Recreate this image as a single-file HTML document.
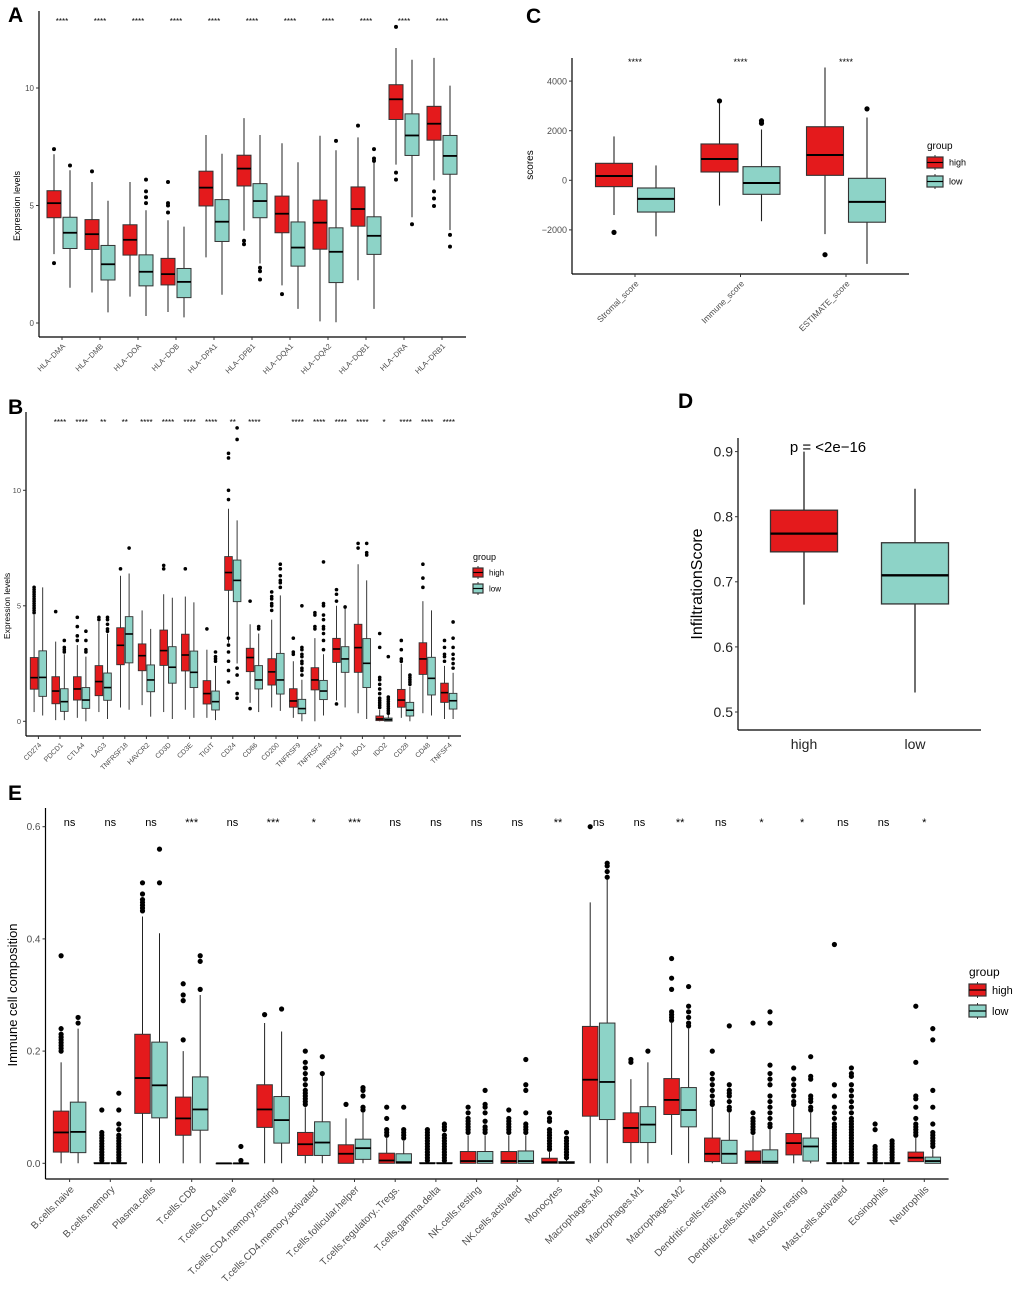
<!DOCTYPE html>
<html><head><meta charset="utf-8">
<style>
body{margin:0;background:#fff;}
svg{display:block;font-family:"Liberation Sans",Arial,sans-serif;}
</style></head>
<body>
<svg id="fig" width="1020" height="1294" viewBox="0 0 1020 1294" xmlns="http://www.w3.org/2000/svg">
<rect width="1020" height="1294" fill="#fff"/>
<text x="8" y="22" font-size="21" font-weight="bold">A</text>
<text x="8" y="414" font-size="21" font-weight="bold">B</text>
<text x="526" y="23" font-size="21" font-weight="bold">C</text>
<text x="678" y="408" font-size="21" font-weight="bold">D</text>
<text x="8" y="800" font-size="21" font-weight="bold">E</text>
</svg>
<script>
// ---------- Panel A data ----------
const catsA=["HLA−DMA","HLA−DMB","HLA−DOA","HLA−DOB","HLA−DPA1","HLA−DPB1","HLA−DQA1","HLA−DQA2","HLA−DQB1","HLA−DRA","HLA−DRB1"];
const sigA=["****","****","****","****","****","****","****","****","****","****","****"];
const highA=[[2.93,4.48,5.1,5.63,7.18],[1.3,3.13,3.78,4.4,6.0],[1.12,2.89,3.54,4.18,6.0],[0.47,1.62,2.08,2.75,4.37],[2.79,4.98,5.76,6.46,8.0],[3.93,5.83,6.57,7.14,8.72],[1.6,3.84,4.65,5.4,7.65],[0.07,3.14,4.27,5.23,7.97],[1.82,4.12,4.85,5.79,7.9],[6.74,8.66,9.52,10.14,11.7],[6.07,7.78,8.48,9.22,11.28]];
const lowA=[[1.5,3.17,3.84,4.5,6.5],[0.45,1.83,2.5,3.3,5.2],[0.3,1.58,2.18,2.9,4.8],[0.24,1.08,1.75,2.32,4.1],[1.2,3.47,4.31,5.25,7.2],[2.53,4.48,5.19,5.93,8.0],[0.6,2.42,3.21,4.3,6.84],[0.03,1.72,3.03,4.05,7.35],[0.6,2.92,3.71,4.52,6.84],[4.5,7.13,7.98,8.9,11.2],[3.95,6.33,7.11,7.98,10.1]];
const outHighA=[[7.4,2.55],[6.45],[],[6.0,5.1,5.0,4.7],[],[3.5,3.35],[1.23],[],[8.4],[12.6,6.4,6.1],[5.6,5.3,4.98]];
const outLowA=[[6.7],[],[6.1,5.6,5.35,5.1],[],[],[2.35,2.2,1.85],[],[7.75],[7.4,7.0,6.9],[4.2],[3.75,3.25]];
const ticksA=[0,5,10];

// ---------- Panel B data ----------
const catsB=["CD274","PDCD1","CTLA4","LAG3","TNFRSF18","HAVCR2","CD3D","CD3E","TIGIT","CD24","CD86","CD200","TNFRSF9","TNFRSF4","TNFRSF14","IDO1","IDO2","CD28","CD48","TNFSF4"];
const sigB=["","****","****","**","**","****","****","****","****","**","****","","****","****","****","****","*","****","****","****"];
const highB=[[0.4,1.39,1.89,2.76,4.6],[0.05,0.76,1.31,1.93,3.45],[0.15,0.92,1.4,1.93,3.3],[0.4,1.11,1.72,2.41,4.3],[0.6,2.45,3.29,4.05,6.3],[0.7,2.19,2.84,3.35,4.8],[0.4,2.42,3.06,3.95,5.5],[0.5,2.18,2.87,3.77,5.4],[0.15,0.75,1.2,1.76,3.1],[3.4,5.67,6.44,7.13,9.2],[0.8,2.15,2.76,3.16,4.2],[0.6,1.57,2.14,2.71,4.4],[0.15,0.61,0.88,1.41,2.6],[0.0,1.36,1.79,2.32,3.6],[0.9,2.55,3.13,3.59,5.0],[0.35,2.12,3.19,4.2,6.8],[0,0.03,0.1,0.23,0.5],[0.15,0.61,0.92,1.38,2.5],[0.35,2.03,2.7,3.4,5.2],[0.1,0.82,1.24,1.65,2.4]];
const lowB=[[0.25,1.08,1.9,3.05,5.8],[0.05,0.43,0.85,1.41,2.9],[0.0,0.56,0.92,1.46,2.8],[0.1,0.91,1.46,2.09,3.8],[0.5,2.53,3.78,4.53,6.4],[0.2,1.28,1.79,2.44,4.0],[0.1,1.65,2.34,3.23,5.35],[0.15,1.46,2.12,3.04,5.15],[0.05,0.49,0.85,1.31,2.4],[2.5,5.18,6.1,6.98,8.7],[0.4,1.4,1.79,2.41,3.8],[0.45,1.18,1.79,2.94,5.45],[0.0,0.33,0.55,0.95,1.8],[0.25,0.94,1.31,1.77,2.9],[0.6,2.12,2.7,3.23,4.9],[0.1,1.46,2.51,3.58,6.1],[0,0.01,0.07,0.14,0.3],[0.0,0.23,0.48,0.82,1.5],[0.25,1.14,1.86,2.77,4.8],[0.1,0.53,0.89,1.21,2.1]];
const outHighB=[[4.7,4.8,4.9,5.0,5.1,5.2,5.3,5.4,5.5,5.6,5.7,5.8],[4.75],[3.5,3.7,4.1,4.5],[4.4,4.5],[6.6],[],[6.6,6.75],[6.6],[4.0],[11.6,11.4,10.0,9.6,3.6,3.3,3.0,2.6,2.2,1.7],[5.2,0.55],[4.8,5.0,5.1,5.3,5.4,5.6],[2.9,3.0,3.6],[4.0,4.1,4.6,4.7],[5.2,5.5,5.7,0.75],[7.5,7.7],[0.6,0.7,0.8,0.9,1.0,1.2,1.4,1.6,1.8,1.9,3.2,3.8],[2.6,2.7,3.1,3.5],[5.8,6.2,6.8],[2.6,2.8,2.9,3.2,3.5]];
const outLowB=[[],[3.0,3.1,3.2,3.5],[3.0,3.1,3.5,3.9],[3.9,4.0,4.2,4.4,4.5],[7.5],[],[],[],[2.6,2.7,2.8,3.0],[12.7,12.2,2.3,2.0,1.2,1.0],[4.0,4.1],[5.8,6.0,6.1,6.3,6.6,6.8],[2.0,2.2,2.3,2.5,2.6,2.8,2.9,3.1,3.2,5.0],[3.1,3.5,3.8,4.0,4.1,4.4,4.6,5.0,5.1,6.9],[4.95],[7.2,7.3,7.7],[0.35,0.45,0.55,0.65,0.75,0.85,0.95,1.05,2.8],[1.6,1.7,1.8,1.9,2.0],[],[2.3,2.5,2.7,2.9,3.2,3.6,4.3]];
const ticksB=[0,5,10];

// ---------- Panel C data ----------
const catsC=["Stromal_score","Immune_score","ESTIMATE_score"];
const sigC=["****","****","****"];
const highC=[[-1400,-255,175,685,1770],[-1020,335,860,1465,3100],[-2170,200,1020,2160,4550]];
const lowC=[[-2260,-1280,-750,-310,600],[-1650,-565,-110,550,2050],[-3370,-1690,-870,80,2530]];
const outHighC=[[-2100],[3200],[-3000]];
const outLowC=[[],[2300,2400],[2880]];
const ticksC=[-2000,0,2000,4000];

// ---------- Panel D data ----------
const catsD=["high","low"];
const boxD=[[0.665,0.746,0.774,0.81,0.9],[0.53,0.666,0.71,0.76,0.843]];
const ticksD=[0.5,0.6,0.7,0.8,0.9];

// ---------- Panel E data ----------
const catsE=["B.cells.naive","B.cells.memory","Plasma.cells","T.cells.CD8","T.cells.CD4.naive","T.cells.CD4.memory.resting","T.cells.CD4.memory.activated","T.cells.follicular.helper","T.cells.regulatory..Tregs.","T.cells.gamma.delta","NK.cells.resting","NK.cells.activated","Monocytes","Macrophages.M0","Macrophages.M1","Macrophages.M2","Dendritic.cells.resting","Dendritic.cells.activated","Mast.cells.resting","Mast.cells.activated","Eosinophils","Neutrophils"];
const sigE=["ns","ns","ns","***","ns","***","*","***","ns","ns","ns","ns","**","ns","ns","**","ns","*","*","ns","ns","*"];
const highE=[[0,0.02,0.055,0.093,0.18],[0,0,0,0.001,0.003],[0,0.089,0.152,0.23,0.44],[0,0.05,0.08,0.118,0.2],[0,0,0,0,0],[0,0.064,0.096,0.14,0.25],[0,0.014,0.034,0.055,0.1],[0,0,0.017,0.033,0.08],[0,0,0.005,0.018,0.045],[0,0,0,0.001,0.002],[0,0,0.004,0.021,0.05],[0,0,0.004,0.021,0.05],[0,0,0.002,0.009,0.02],[0,0.084,0.149,0.244,0.465],[0,0.037,0.063,0.09,0.15],[0.015,0.087,0.113,0.151,0.25],[0,0.003,0.017,0.045,0.1],[0,0,0.003,0.022,0.05],[0,0.015,0.036,0.053,0.1],[0,0,0,0.001,0.002],[0,0,0,0.001,0.002],[0.003,0.003,0.01,0.02,0.045]];
const lowE=[[0,0.019,0.056,0.109,0.24],[0,0,0,0.001,0.003],[0,0.081,0.139,0.216,0.41],[0,0.059,0.096,0.154,0.3],[0,0,0,0,0],[0,0.036,0.077,0.119,0.235],[0,0.014,0.037,0.074,0.16],[0,0.007,0.027,0.043,0.09],[0,0,0.002,0.017,0.04],[0,0,0,0.001,0.002],[0,0,0.004,0.021,0.05],[0,0,0.004,0.022,0.05],[0,0,0.001,0.003,0.006],[0,0.078,0.145,0.25,0.51],[0,0.037,0.069,0.101,0.18],[0,0.065,0.095,0.135,0.24],[0,0,0.017,0.041,0.09],[0,0,0.003,0.024,0.06],[0,0.004,0.03,0.045,0.09],[0,0,0,0.001,0.002],[0,0,0,0.001,0.002],[0,0,0.004,0.011,0.025]];
const outHighE=[[0.2,0.205,0.21,0.215,0.22,0.225,0.23,0.24,0.37],[0.005,0.01,0.015,0.02,0.025,0.03,0.035,0.04,0.045,0.05,0.055,0.095],[0.45,0.455,0.46,0.465,0.47,0.48,0.5],[0.22,0.29,0.3,0.32],[],[0.265],[0.105,0.11,0.115,0.12,0.125,0.13,0.14,0.15,0.16,0.17,0.18,0.2],[0.105],[0.05,0.055,0.06,0.08,0.1],[0.005,0.01,0.015,0.02,0.025,0.03,0.035,0.04,0.045,0.05,0.055,0.06],[0.055,0.06,0.065,0.07,0.075,0.08,0.09,0.1],[0.055,0.06,0.065,0.07,0.075,0.08,0.095],[0.025,0.03,0.035,0.04,0.045,0.05,0.055,0.06,0.075,0.08,0.09],[0.6],[0.18,0.185],[0.255,0.26,0.265,0.27,0.31,0.33,0.365],[0.105,0.11,0.12,0.13,0.14,0.15,0.16,0.2],[0.055,0.06,0.065,0.07,0.075,0.08,0.09,0.25],[0.105,0.11,0.12,0.13,0.14,0.15,0.17],[0.005,0.01,0.015,0.02,0.025,0.03,0.035,0.04,0.045,0.05,0.055,0.06,0.065,0.07,0.08,0.09,0.1,0.12,0.14,0.39],[0.005,0.01,0.015,0.02,0.025,0.03,0.06,0.07],[0.05,0.055,0.06,0.065,0.07,0.08,0.1,0.115,0.12,0.18,0.28]];
const outLowE=[[0.25,0.26],[0.005,0.01,0.015,0.02,0.025,0.03,0.035,0.04,0.045,0.05,0.06,0.07,0.095,0.125],[0.5,0.56],[0.31,0.36,0.37],[0.005,0.03],[0.275],[0.16,0.19],[0.095,0.1,0.12,0.13,0.135],[0.045,0.05,0.055,0.06,0.1],[0.005,0.01,0.015,0.02,0.025,0.03,0.035,0.04,0.045,0.05,0.06,0.065,0.07],[0.055,0.06,0.065,0.075,0.09,0.1,0.105,0.13],[0.055,0.06,0.065,0.07,0.09,0.13,0.14,0.185],[0.01,0.015,0.02,0.025,0.03,0.035,0.04,0.045,0.055],[0.51,0.52,0.53,0.535],[0.2],[0.245,0.25,0.26,0.27,0.28,0.315],[0.095,0.1,0.11,0.12,0.125,0.13,0.14,0.245],[0.065,0.07,0.08,0.09,0.1,0.11,0.12,0.14,0.15,0.16,0.175,0.25,0.27],[0.095,0.1,0.11,0.115,0.12,0.15,0.155,0.19],[0.005,0.01,0.015,0.02,0.025,0.03,0.035,0.04,0.045,0.05,0.055,0.06,0.065,0.07,0.075,0.08,0.09,0.1,0.11,0.12,0.13,0.14,0.155,0.16,0.17],[0.005,0.01,0.015,0.02,0.025,0.03,0.035,0.04],[0.03,0.035,0.04,0.045,0.05,0.055,0.07,0.1,0.13,0.22,0.24]];
const ticksE=[0.0,0.2,0.4,0.6];

const NS="http://www.w3.org/2000/svg";
const fig=document.getElementById('fig');
const RED="#E41A1C", TEAL="#8DD3C7";
function mk(tag,parent){const e=document.createElementNS(NS,tag);parent.appendChild(e);return e;}
function at(e,o){for(const k in o)e.setAttribute(k,o[k]);return e;}

function drawBox(g,cx,w,s,fill,yf,outs,r,lw,name){
  const wl=mk('line',g);
  at(wl,{x1:cx,x2:cx,y1:yf(s[0]),y2:yf(s[4]),stroke:"#222","stroke-width":lw});
  
  
  const rc=mk('rect',g);
  at(rc,{x:cx-w/2,y:yf(s[3]),width:w,height:Math.max(0.5,yf(s[1])-yf(s[3])),fill:fill,stroke:"#333","stroke-width":lw});
  
  
  const md=mk('line',g);
  at(md,{x1:cx-w/2,x2:cx+w/2,y1:yf(s[2]),y2:yf(s[2]),stroke:"#000","stroke-width":lw*1.8});
  
  
  (outs||[]).forEach(v=>{
    const c=mk('circle',g);
    at(c,{cx:cx,cy:yf(v),r:r,fill:"#000"});
    
    
  });
}

function axes(g,x0,x1,yt,yb,ticks,yf,fmt,fs,col,name){
  const ya=mk('line',g);
  at(ya,{x1:x0,x2:x0,y1:yt,y2:yb,stroke:"#000","stroke-width":1.2});
  
  
  const xa=mk('line',g);
  at(xa,{x1:x0,x2:x1,y1:yb,y2:yb,stroke:"#000","stroke-width":1.2});
  
  
  ticks.forEach(t=>{
    const tm=mk('line',g);
    at(tm,{x1:x0-3,x2:x0,y1:yf(t),y2:yf(t),stroke:"#333","stroke-width":1});
    
    
    const tx=mk('text',g);
    at(tx,{x:x0-5,y:yf(t)+fs*0.35,"text-anchor":"end","font-size":fs,fill:col});
    tx.textContent=fmt(t);
    
    
  });
}

function xLabels(g,cats,cxf,yb,fs,name,rot){
  cats.forEach((c,i)=>{
    const cx=cxf(i);
    const tm=mk('line',g);
    at(tm,{x1:cx,x2:cx,y1:yb,y2:yb+3,stroke:"#333","stroke-width":1});
    
    
    const tx=mk('text',g);
    const ty=yb+6;
    at(tx,{x:cx,y:ty,"text-anchor":"end","font-size":fs,fill:"#4d4d4d",transform:`rotate(${rot} ${cx} ${ty})`,dy:fs*0.7});
    tx.textContent=c;
    
    
  });
}

function sigs(g,sig,cxf,y,fs,name){
  sig.forEach((s,i)=>{
    if(!s)return;
    const tx=mk('text',g);
    at(tx,{x:cxf(i),y:y,"text-anchor":"middle","font-size":fs,fill:"#000"});
    tx.textContent=s;
    
    
  });
}

function yTitle(g,txt,x,y,fs,name){
  const tx=mk('text',g);
  at(tx,{x:x,y:y,"text-anchor":"middle","font-size":fs,transform:`rotate(-90 ${x} ${y})`});
  tx.textContent=txt;
  
  
}

function legend(g,x,y,fs,kw,kh,gap,name){
  const t=mk('text',g);
  at(t,{x:x,y:y,"font-size":fs+1});
  t.textContent="group";
  
  
  [["high",RED],["low",TEAL]].forEach((d,i)=>{
    const ky=y+8+i*gap;
    const ln=mk('line',g);
    at(ln,{x1:x+kw/2,x2:x+kw/2,y1:ky-2,y2:ky+kh+2,stroke:"#333","stroke-width":1});
    
    
    const r=mk('rect',g);
    at(r,{x:x,y:ky,width:kw,height:kh,fill:d[1],stroke:"#333","stroke-width":1.2});
    
    
    const m=mk('line',g);
    at(m,{x1:x,x2:x+kw,y1:ky+kh/2,y2:ky+kh/2,stroke:"#000","stroke-width":1.2});
    
    
    const tx=mk('text',g);
    at(tx,{x:x+kw+6,y:ky+kh/2+fs*0.35,"font-size":fs});
    tx.textContent=d[0];
    
    
  });
}

function grouped(name,cats,sig,high,low,oh,ol,ticks,o){
  const g=mk('g',fig);
  
  
  const yf=v=>o.y0-(v-o.v0)*o.k;
  const cxf=i=>o.c0+o.sp*i;
  axes(g,o.x0,o.x1,o.yt,o.yb,ticks,yf,o.fmt,o.tfs,o.tcol,name);
  cats.forEach((c,i)=>{
    drawBox(g,cxf(i)-o.off,o.bw,high[i],RED,yf,oh[i],o.r,o.lw,name+'-high-'+i);
    drawBox(g,cxf(i)+o.off,o.bw,low[i],TEAL,yf,ol[i],o.r,o.lw,name+'-low-'+i);
  });
  xLabels(g,cats,cxf,o.yb,o.xfs,name,-45);
  sigs(g,sig,cxf,o.sy,o.sfs,name);
  return g;
}

// Panel A
const gA=grouped('panel-a',catsA,sigA,highA,lowA,outHighA,outLowA,ticksA,
 {x0:39,x1:466,yt:11,yb:337,y0:323,v0:0,k:23.5,c0:62,sp:38,off:8,bw:14,r:2,lw:1,
  fmt:v=>v,tfs:8,tcol:"#4d4d4d",xfs:7.5,sy:24,sfs:8});
yTitle(gA,"Expression levels",20,206,9,'panel-a');

// Panel B
const gB=grouped('panel-b',catsB,sigB,highB,lowB,outHighB,outLowB,ticksB,
 {x0:26,x1:461,yt:412,yb:736,y0:721.3,v0:0,k:23.1,c0:38.4,sp:21.6,off:4.3,bw:7.6,r:1.8,lw:0.9,
  fmt:v=>v,tfs:7.5,tcol:"#4d4d4d",xfs:7,sy:425,sfs:8});
yTitle(gB,"Expression levels",10,606,8.5,'panel-b');
legend(gB,473,560,8,10,9,16,'panel-b');

// Panel C
const gC=grouped('panel-c',catsC,sigC,highC,lowC,outHighC,outLowC,ticksC,
 {x0:572,x1:909,yt:58,yb:274,y0:180.3,v0:0,k:0.0248,c0:635,sp:105.5,off:21,bw:37,r:2.6,lw:1.1,
  fmt:v=>(v<0?"−"+(-v):v),tfs:9,tcol:"#4d4d4d",xfs:8.5,sy:65,sfs:9});
yTitle(gC,"scores",533,165,10,'panel-c');
legend(gC,927,149,9,16,11,19,'panel-c');

// Panel D
(function(){
  const g=mk('g',fig);
  
  
  const yf=v=>712-(v-0.5)*651;
  axes(g,738,981,438,730,ticksD,yf,v=>v.toFixed(1),14,"#222",'panel-d');
  const cx=[804,915];
  drawBox(g,cx[0],67,boxD[0],RED,yf,[],2,1.3,'panel-d-high');
  drawBox(g,cx[1],67,boxD[1],TEAL,yf,[],2,1.3,'panel-d-low');
  catsD.forEach((c,i)=>{
    const t=mk('text',g);
    at(t,{x:cx[i],y:749,"text-anchor":"middle","font-size":14,fill:"#222"});
    t.textContent=c;
    
    
  });
  const p=mk('text',g);
  at(p,{x:828,y:452,"text-anchor":"middle","font-size":15});
  p.textContent="p = <2e−16";
  
  
  yTitle(g,"InfiltrationScore",702,584,16,'panel-d');
})();

// Panel E
const gE=grouped('panel-e',catsE,sigE,highE,lowE,outHighE,outLowE,ticksE,
 {x0:45.5,x1:948.6,yt:808,yb:1179,y0:1163.3,v0:0,k:561,c0:69.6,sp:40.7,off:8.5,bw:15.5,r:2.6,lw:1,
  fmt:v=>v.toFixed(1),tfs:10,tcol:"#4d4d4d",xfs:10,sy:826,sfs:11});
yTitle(gE,"Immune cell composition",17,995,13,'panel-e');
legend(gE,969,976,11,17,12,21,'panel-e');
</script>
</body></html>
